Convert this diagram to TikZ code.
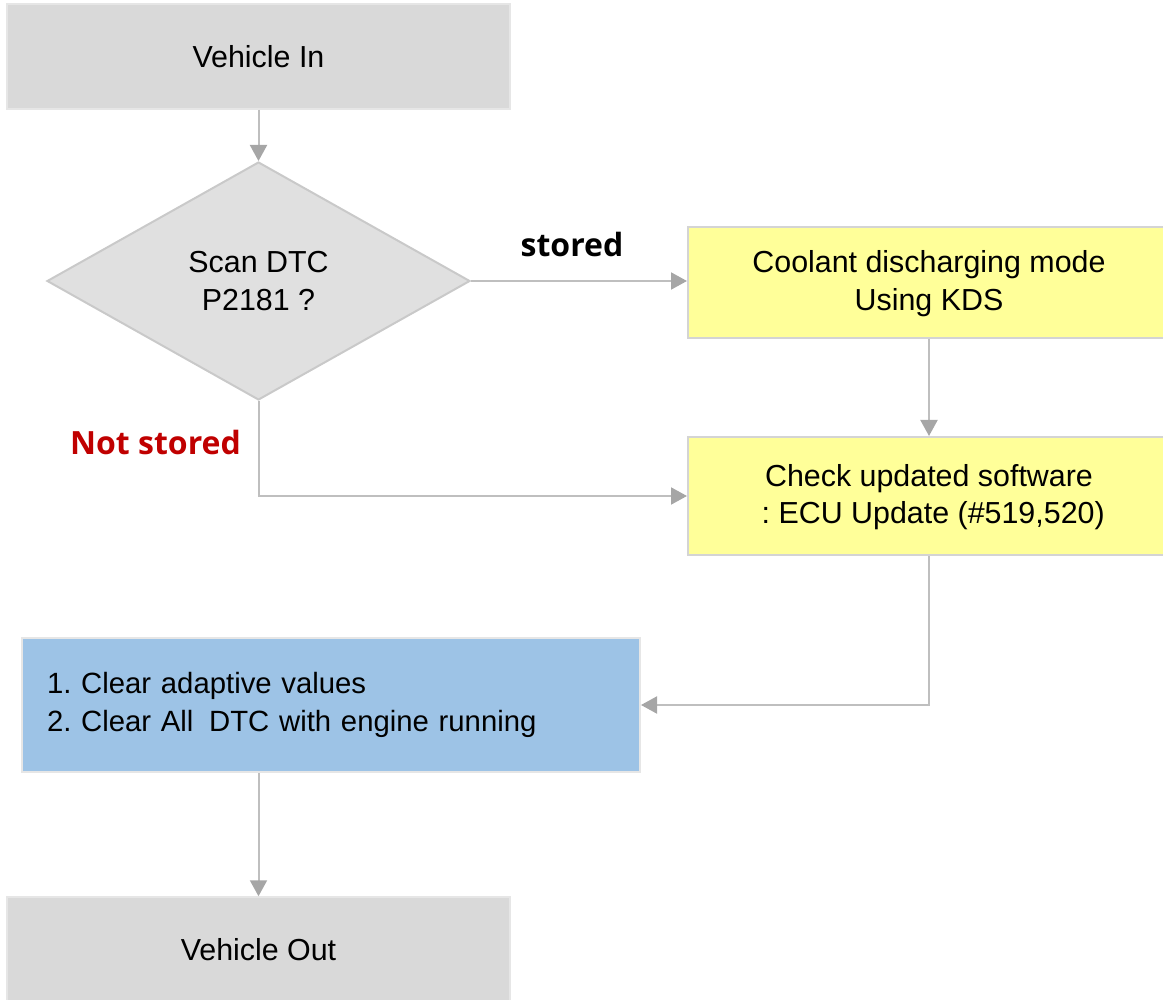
\documentclass[tikz,border=0pt]{standalone}
\usepackage{fontspec}
\setmainfont{Liberation Sans}
\newfontfamily\lblfont{Open Sans}
\usetikzlibrary{arrows.meta,shapes.geometric,calc}
\frenchspacing
\definecolor{boxgray}{HTML}{D9D9D9}
\definecolor{diagray}{HTML}{E0E0E0}
\definecolor{edgegray}{HTML}{C9C9C9}
\definecolor{lightedge}{HTML}{E6E6E6}
\definecolor{yel}{HTML}{FFFF99}
\definecolor{blu}{HTML}{9DC3E6}
\definecolor{linegray}{HTML}{BFBFBF}
\definecolor{tipgray}{HTML}{A6A6A6}
\definecolor{redlbl}{HTML}{C00000}
\tikzset{
  txt/.style={font=\fontsize{30.4}{37.5}\selectfont, text=black},
  graybox/.style={txt, draw=lightedge, line width=1.5pt, fill=boxgray, minimum width=503pt, minimum height=105pt, inner sep=0pt},
  yelbox/.style={txt, draw=edgegray!80, line width=2pt, fill=yel, minimum width=482pt, inner sep=0pt, align=center},
  blubox/.style={font=\fontsize{29.3}{37.5}\selectfont, text=black, draw=lightedge, line width=2pt, fill=blu, text width=568pt, inner xsep=25pt, inner ysep=0pt, minimum height=134pt, align=left},
  decision/.style={txt, diamond, draw=edgegray, line width=2pt, fill=diagray, minimum width=423pt, minimum height=238pt, inner sep=0pt, align=center},
  conn/.style={draw=linegray, line width=2pt, -{Triangle[width=17pt,length=16pt,color=tipgray]}},
  lbl/.style={font=\lblfont\bfseries\fontsize{32}{37}\selectfont}
}
\begin{document}
\begin{tikzpicture}[x=1pt,y=-1pt]
\useasboundingbox (0,0) rectangle (1163,1000);
\begin{scope}
\clip (0,0) rectangle (1163,1000);
\node[graybox] (vin) at (258.5,56.5) {Vehicle In};
\node[decision] (dia) at (258.5,281) {Scan DTC\\P2181 ?};
\node[yelbox, minimum height=111pt, text depth=4pt] (y1) at (929,282.5) {Coolant discharging mode\\Using KDS};
\node[yelbox, minimum height=118pt, text depth=4pt] (y2) at (929,496) {Check updated software\\\ : ECU Update (\#519,520)};
\node[blubox] (blue) at (331,705) {1. Clear adaptive values\\2. Clear All\hspace{0.2em} DTC with engine running};
\node[graybox] (vout) at (258.5,949.5) {Vehicle Out};

\draw[conn] (vin.south) -- (dia.north);
\draw[conn] (dia.east) -- (dia.east -| y1.west);
\draw[conn] (y1.south) -- (y2.north);
\draw[conn] (dia.south) |- (y2.west);
\draw[conn] (y2.south) |- (blue.east);
\draw[conn] (vout.north |- blue.south) -- (vout.north);

\node[lbl, text=black] (lstored) at (572,245) {stored};
\node[lbl, text=redlbl] (lnot) at (155.5,443) {Not stored};
\end{scope}
\end{tikzpicture}
\end{document}
